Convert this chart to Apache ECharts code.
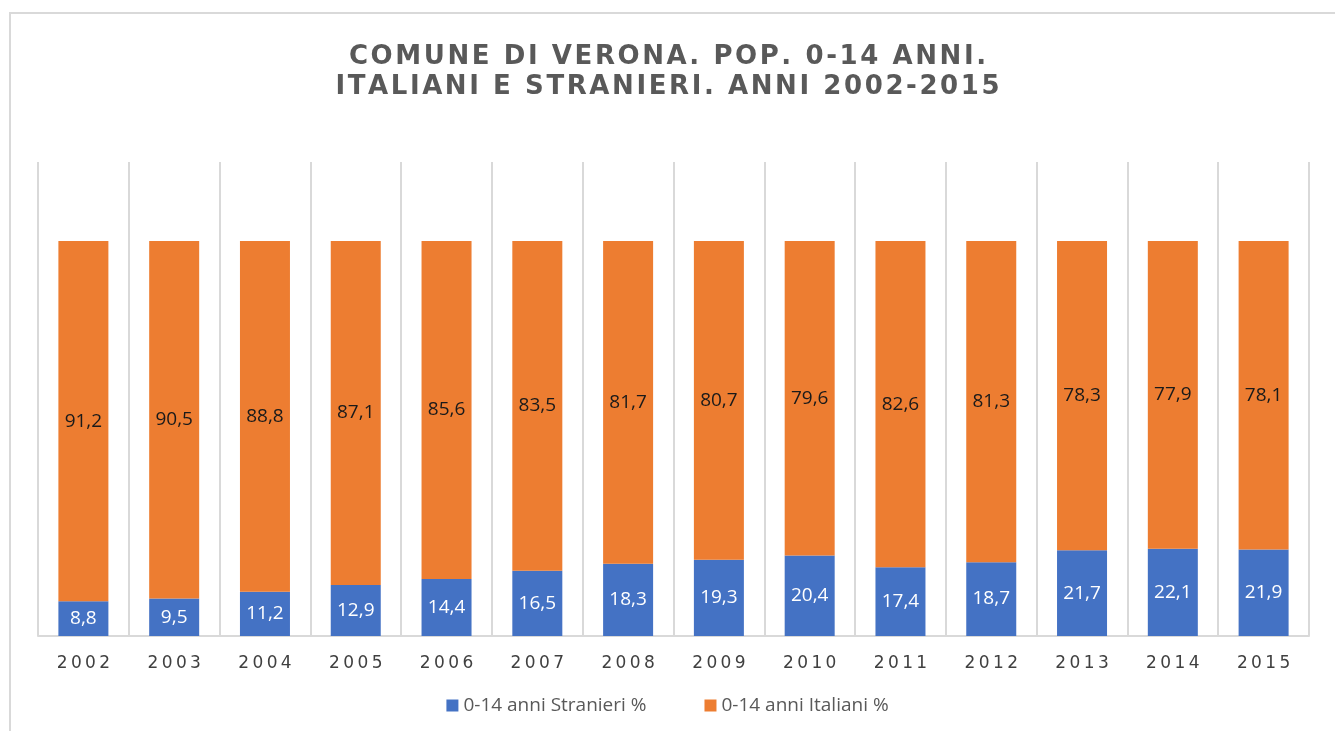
<!DOCTYPE html>
<html>
<head>
<meta charset="utf-8">
<style>
  html, body { margin: 0; padding: 0; background: #fff; }
  #main { width: 1335px; height: 731px; }
</style>
</head>
<body>
<div id="main"></div>
<script src="https://cdn.jsdelivr.net/npm/echarts@6/dist/echarts.min.js"></script>
<script type="text/javascript">
    var anni = ['2002', '2003', '2004', '2005', '2006', '2007', '2008', '2009', '2010', '2011', '2012', '2013', '2014', '2015'];
    var stranieri = [8.8, 9.5, 11.2, 12.9, 14.4, 16.5, 18.3, 19.3, 20.4, 17.4, 18.7, 21.7, 22.1, 21.9];
    var italiani = [91.2, 90.5, 88.8, 87.1, 85.6, 83.5, 81.7, 80.7, 79.6, 82.6, 81.3, 78.3, 77.9, 78.1];
    var titolo = 'COMUNE DI VERONA. POP. 0-14 ANNI.\nITALIANI E STRANIERI. ANNI 2002-2015';

    // spazi sottili tra le lettere, come nel grafico originale
    function spaziato(s, sep) {
        return s.split('\n').map(function (riga) { return riga.split('').join(sep); }).join('\n');
    }
    function virgola(p) { return String(p.value).replace('.', ','); }

    var myChart = echarts.init(document.getElementById('main'));
    var option = {
        animation: false,
        title: {
            text: spaziato(titolo, '\u200A'),
            left: 'center',
            top: 37,
            textStyle: {
                fontFamily: 'DejaVu Sans',
                fontWeight: 'bold',
                fontSize: 26,
                lineHeight: 30,
                color: '#595959'
            }
        },
        legend: {
            bottom: 11,
            left: 'center',
            itemWidth: 12,
            itemHeight: 12,
            itemGap: 58,
            icon: 'rect',
            textStyle: { fontFamily: 'Open Sans', fontSize: 19, color: '#595959' },
            data: ['0-14 anni Stranieri %', '0-14 anni Italiani %']
        },
        graphic: [{
            type: 'rect',
            shape: { x: 10, y: 13, width: 1400, height: 800 },
            style: { fill: 'none', stroke: '#d9d9d9', lineWidth: 2 },
            silent: true
        }],
        grid: { left: 38, right: 26, top: 162, bottom: 95 },
        xAxis: {
            type: 'category',
            data: anni,
            axisLine: { lineStyle: { color: '#d9d9d9', width: 2 } },
            axisTick: { show: false },
            splitLine: { show: true, lineStyle: { color: '#d9d9d9', width: 2 } },
            axisLabel: {
                margin: 19,
                fontFamily: 'DejaVu Sans',
                fontSize: 17,
                color: '#404040',
                formatter: function (v) { return spaziato(v, '\u2009'); }
            }
        },
        yAxis: {
            type: 'value',
            min: 0,
            max: 120,
            show: false,
            splitLine: { show: false }
        },
        series: [{
            name: '0-14 anni Stranieri %',
            type: 'bar',
            stack: 'tot',
            barWidth: 50,
            data: stranieri,
            itemStyle: { color: '#4472C4' },
            label: {
                show: true,
                position: 'inside',
                formatter: virgola,
                fontFamily: 'Open Sans',
                fontSize: 19,
                color: '#ffffff'
            }
        }, {
            name: '0-14 anni Italiani %',
            type: 'bar',
            stack: 'tot',
            barWidth: 50,
            data: italiani,
            itemStyle: { color: '#ED7D31' },
            label: {
                show: true,
                position: 'inside',
                formatter: virgola,
                fontFamily: 'Open Sans',
                fontSize: 19,
                color: '#1a1a1a'
            }
        }]
    };
    myChart.setOption(option);
</script>
</body>
</html>
